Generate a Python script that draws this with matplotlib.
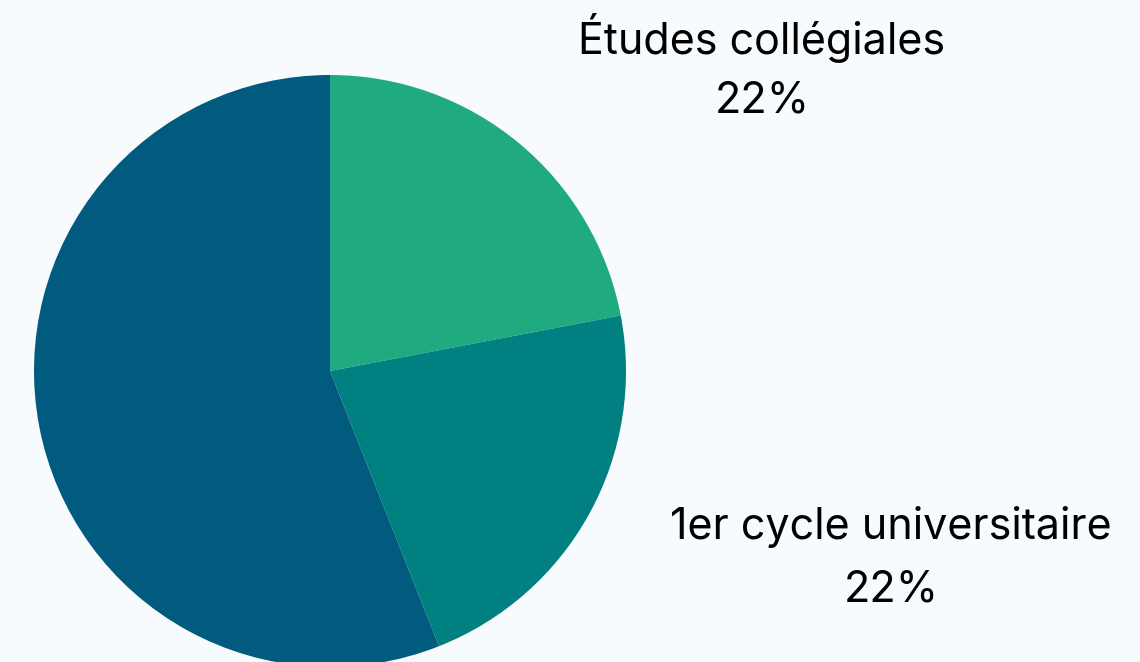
import matplotlib
matplotlib.use("Agg")
from matplotlib import pyplot as plt

# data
categories = ["Études collégiales", "1er cycle universitaire", "Études supérieures"]
shares = [22, 22, 56]
colors = ["#1FAA80", "#008080", "#005B7F"]

BG = "#F7FBFE"
plt.rcParams['font.family'] = ['Inter', 'DejaVu Sans']

fig = plt.figure(figsize=(11.4, 6.62), dpi=100, facecolor=BG)
ax = fig.add_axes([0, 0, 1, 1])
ax.set_facecolor(BG)

ax.pie(shares, colors=colors, startangle=90, counterclock=False,
       center=(330, 291), radius=296, frame=True,
       wedgeprops=dict(linewidth=0))
ax.set_xlim(0, 1140)
ax.set_ylim(0, 662)
ax.set_aspect('equal')
ax.axis('off')

# labels for the two visible slices
label_pos = [(762, 624), (891, 135)]
for (x, y), name, v in zip(label_pos, categories[:2], shares[:2]):
    ax.text(x, y, name, ha='center', va='center', fontsize=31, color='black')
    ax.text(x, y - 63, f"{v}%", ha='center', va='center', fontsize=31, color='black')

fig.savefig("out.png", dpi=100, facecolor=BG)
